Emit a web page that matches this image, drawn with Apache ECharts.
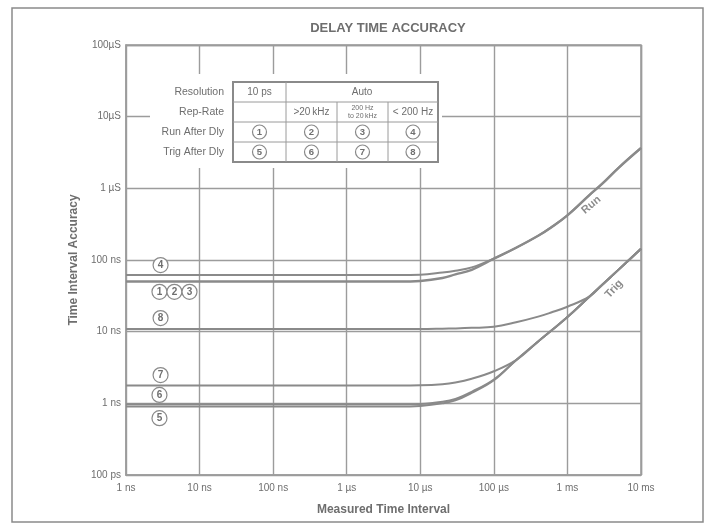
<!DOCTYPE html>
<html>
<head>
<meta charset="utf-8">
<script src="https://cdn.jsdelivr.net/npm/echarts@6/dist/echarts.min.js"></script>
<style>
html, body { margin: 0; padding: 0; background: #fff; }
#chartmain { width: 712px; height: 528px; }
</style>
</head>
<body>
<div id="chartmain"></div>
<script>
// 数据
var xTickLabels = ['1 ns', '10 ns', '100 ns', '1 \u00b5s', '10 \u00b5s', '100 \u00b5s', '1 ms', '10 ms'];
var yTickLabels = ['100 ps', '1 ns', '10 ns', '100 ns', '1 \u00b5S', '10\u00b5S', '100\u00b5S'];

// measured time interval (s)
var curveTimes = [1e-9, 1e-6, 5e-6, 1e-5, 2e-5, 3e-5, 5e-5, 1e-4, 2e-4, 4e-4, 6e-4, 1e-3, 2e-3, 3e-3, 5e-3, 1e-2];
// accuracy (ns)
var run4   = [62, 62, 62, 62.5, 67, 71, 79, 105, 148, 218, 285, 420, 810, 1170, 1950, 3650];
var run123 = [50, 50, 50, 51, 56, 63, 73, 104, 148, 218, 285, 420, 810, 1170, 1950, 3650];
var trig8  = [10.9, 10.9, 10.9, 10.9, 11, 11.1, 11.3, 11.7, 13.5, 16.2, 18.5, 22.3, 31, 45.5, 74, 144];
var trig7  = [1.78, 1.78, 1.78, 1.79, 1.85, 1.95, 2.2, 2.8, 4.0, 7.3, 10.3, 16, 31, 45.5, 74, 144];
var trig6  = [0.97, 0.97, 0.97, 0.98, 1.05, 1.15, 1.45, 2.15, 4.0, 7.3, 10.3, 16, 31, 45.5, 74, 144];
var trig5  = [0.9, 0.9, 0.9, 0.92, 1.0, 1.1, 1.4, 2.1, 4.0, 7.3, 10.3, 16, 31, 45.5, 74, 144];

// circled numbers on the curves
var noteText = ['4', '1', '2', '3', '8', '7', '6', '5'];
var noteX    = [2.95e-9, 2.85e-9, 4.55e-9, 7.3e-9, 2.95e-9, 2.95e-9, 2.85e-9, 2.85e-9];
var noteY    = [85e-9, 36e-9, 36e-9, 36e-9, 15.5e-9, 2.48e-9, 1.31e-9, 0.62e-9];

// Run / Trig labels
var curveLabelText  = ['Run', 'Trig'];
var curveLabelX     = [2.1e-3, 4.3e-3];
var curveLabelY     = [5.85e-7, 3.94e-8];
var curveLabelAngle = [40, 47];

// table
var tableRows = ['Resolution', 'Rep-Rate', 'Run After Dly', 'Trig After Dly'];
var tableRepRate = ['', '>20\u2009kHz', '200 Hz\nto 20\u2009kHz', '< 200 Hz'];
var tableRun = ['1', '2', '3', '4'];
var tableTrig = ['5', '6', '7', '8'];

var LINE = '#8a8a8a';
var GRID = '#9c9c9c';
var TEXT = '#6e6e6e';
var FONT = 'Liberation Sans, Arial, sans-serif';

function pairs(vals) {
    return curveTimes.map(function (t, i) { return [t, vals[i] * 1e-9]; });
}

function lineSeries(name, vals, width) {
    return {
        name: name,
        type: 'line',
        data: pairs(vals),
        smooth: 0.4,
        showSymbol: false,
        silent: true,
        lineStyle: { color: LINE, width: width },
        z: 3
    };
}

var chart = echarts.init(document.getElementById('chartmain'), null, { renderer: 'canvas' });

// table graphic (pixel layout)
var tx = [233, 286, 337, 388, 438];
var ty = [82, 102, 122, 142, 162];
var g = [];
g.push({ type: 'rect', shape: { x: 150, y: 74, width: 292, height: 94 }, style: { fill: '#fff' }, z: 10 });
g.push({ type: 'rect', shape: { x: 12, y: 8, width: 691, height: 514 }, style: { fill: null, stroke: '#8a8a8a', lineWidth: 1.5 }, z: 10 });
tableRows.forEach(function (r, i) {
    g.push({ type: 'text', x: 224, y: ty[i] + 10, style: { text: r, fill: TEXT, font: '10.5px ' + FONT, textAlign: 'right', textVerticalAlign: 'middle' }, z: 11 });
});
g.push({ type: 'rect', shape: { x: tx[0], y: ty[0], width: tx[4] - tx[0], height: ty[4] - ty[0] }, style: { fill: '#fff', stroke: '#8a8a8a', lineWidth: 2 }, z: 11 });
for (var i = 1; i < 4; i++) {
    g.push({ type: 'line', shape: { x1: tx[0], y1: ty[i], x2: tx[4], y2: ty[i] }, style: { stroke: '#9a9a9a', lineWidth: 1 }, z: 12 });
}
g.push({ type: 'line', shape: { x1: tx[1], y1: ty[0], x2: tx[1], y2: ty[4] }, style: { stroke: '#9a9a9a', lineWidth: 1 }, z: 12 });
g.push({ type: 'line', shape: { x1: tx[2], y1: ty[1], x2: tx[2], y2: ty[4] }, style: { stroke: '#9a9a9a', lineWidth: 1 }, z: 12 });
g.push({ type: 'line', shape: { x1: tx[3], y1: ty[1], x2: tx[3], y2: ty[4] }, style: { stroke: '#9a9a9a', lineWidth: 1 }, z: 12 });
g.push({ type: 'text', x: (tx[0] + tx[1]) / 2, y: ty[0] + 10, style: { text: '10 ps', fill: TEXT, font: '10px ' + FONT, textAlign: 'center', textVerticalAlign: 'middle' }, z: 12 });
g.push({ type: 'text', x: (tx[1] + tx[4]) / 2, y: ty[0] + 10, style: { text: 'Auto', fill: TEXT, font: '10px ' + FONT, textAlign: 'center', textVerticalAlign: 'middle' }, z: 12 });
tableRepRate.forEach(function (s, c) {
    var small = s.indexOf('\n') >= 0;
    g.push({ type: 'text', x: (tx[c] + tx[c + 1]) / 2, y: ty[1] + 10, style: { text: s, fill: TEXT, font: (small ? '7px ' : '10px ') + FONT, lineHeight: small ? 8 : 12, textAlign: 'center', textVerticalAlign: 'middle' }, z: 12 });
});
[tableRun, tableTrig].forEach(function (row, r) {
    row.forEach(function (s, c) {
        var cx = (tx[c] + tx[c + 1]) / 2, cy = ty[r + 2] + 10;
        g.push({ type: 'circle', shape: { cx: cx, cy: cy, r: 7 }, style: { fill: '#fff', stroke: '#8a8a8a', lineWidth: 1.2 }, z: 13 });
        g.push({ type: 'text', x: cx, y: cy + 0.5, style: { text: s, fill: TEXT, font: 'bold 9.5px ' + FONT, textAlign: 'center', textVerticalAlign: 'middle' }, z: 14 });
    });
});

option = {
    backgroundColor: '#fff',
    animation: false,
    title: {
        text: 'DELAY TIME ACCURACY',
        left: 383,
        top: 17,
        textAlign: 'center',
        textStyle: { color: TEXT, fontSize: 13, fontWeight: 'bold', fontFamily: FONT }
    },
    grid: { left: 126, right: 71, top: 45, bottom: 53, show: true, borderColor: GRID, borderWidth: 1.5 },
    xAxis: {
        type: 'log',
        logBase: 10,
        min: 1e-9,
        max: 1e-2,
        name: 'Measured Time Interval',
        nameLocation: 'middle',
        nameGap: 29,
        nameTextStyle: { color: TEXT, fontSize: 12, fontWeight: 'bold', fontFamily: FONT },
        axisLine: { lineStyle: { color: GRID, width: 1.5 } },
        axisTick: { show: false },
        splitLine: { show: true, lineStyle: { color: GRID, width: 1.4 } },
        minorSplitLine: { show: false },
        axisLabel: {
            color: TEXT, fontSize: 10, fontFamily: FONT, margin: 8,
            formatter: function (v) { return xTickLabels[Math.round(Math.log10(v)) + 9]; }
        }
    },
    yAxis: {
        type: 'log',
        logBase: 10,
        min: 1e-10,
        max: 1e-4,
        name: 'Time Interval Accuracy',
        nameLocation: 'middle',
        nameGap: 41,
        nameTextStyle: { color: TEXT, fontSize: 12, fontWeight: 'bold', fontFamily: FONT },
        axisLine: { lineStyle: { color: GRID, width: 1.5 } },
        axisTick: { show: false },
        splitLine: { show: true, lineStyle: { color: GRID, width: 1.4 } },
        axisLabel: {
            color: TEXT, fontSize: 10, fontFamily: FONT, margin: 5,
            formatter: function (v) { return yTickLabels[Math.round(Math.log10(v)) + 10]; }
        }
    },
    series: [
        lineSeries('4', run4, 2),
        lineSeries('1,2,3', run123, 2.4),
        lineSeries('8', trig8, 2),
        lineSeries('7', trig7, 2),
        lineSeries('6', trig6, 2),
        lineSeries('5', trig5, 2),
        {
            name: 'notes',
            type: 'scatter',
            silent: true,
            symbol: 'circle',
            symbolSize: 15,
            itemStyle: { color: '#fff', borderColor: '#8a8a8a', borderWidth: 1.2, opacity: 1 },
            label: {
                show: true, position: 'inside', color: TEXT, fontSize: 10, fontWeight: 'bold', fontFamily: FONT,
                formatter: function (p) { return p.data[2]; }
            },
            data: noteText.map(function (s, i) { return [noteX[i], noteY[i], s]; }),
            z: 6
        },
        {
            name: 'curve labels',
            type: 'scatter',
            silent: true,
            symbolSize: 2,
            itemStyle: { color: 'rgba(255,255,255,0)' },
            data: curveLabelText.map(function (s, i) {
                return {
                    value: [curveLabelX[i], curveLabelY[i]],
                    label: {
                        show: true, position: 'inside', rotate: curveLabelAngle[i], formatter: s,
                        color: TEXT, fontSize: 11, fontWeight: 'bold', fontFamily: FONT
                    }
                };
            }),
            z: 6
        }
    ],
    graphic: { elements: g }
};
chart.setOption(option);
</script>
</body>
</html>
